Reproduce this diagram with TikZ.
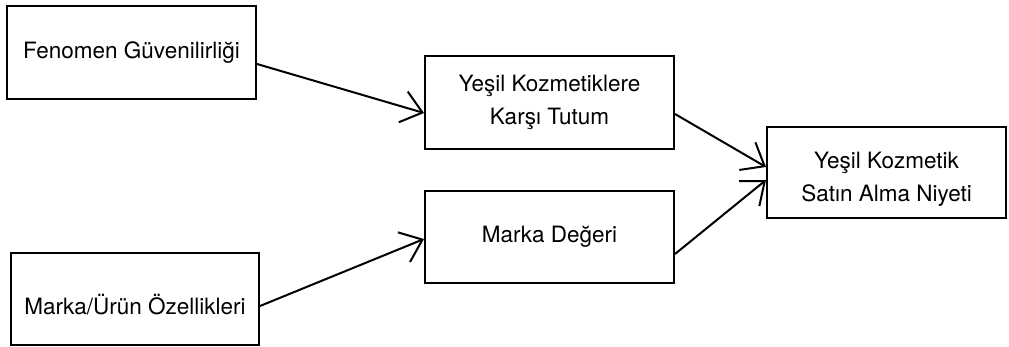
\documentclass[tikz,border=0pt]{standalone}
\usepackage{fontspec}
\setmainfont{TeX Gyre Heros}
\usetikzlibrary{arrows.meta,calc}
\begin{document}
\begin{tikzpicture}[x=1pt,y=-1pt,
  box/.style={draw=black,line width=2pt,minimum width=249pt,minimum height=92pt,
    inner sep=0pt,align=center,font=\fontsize{22.5}{33}\selectfont},
  lowtext/.style={label={[align=center,font=\fontsize{22.5}{33}\selectfont,yshift=-#1]center:}},
  conn/.style={line width=2pt,-{Straight Barb[length=20pt,width=32pt,line width=2pt]}}]
\useasboundingbox (0,0) rectangle (1009,347);
\node[box,minimum height=93pt] (b1) at (131.5,52.5) {Fenomen Güvenilirliği};
\node[box,minimum height=93pt] (b2) at (549.5,102.5) {Yeşil Kozmetiklere\\Karşı Tutum};
\node[box] (b3) at (549.5,237) {Marka Değeri};
\node[box,minimum width=239pt,minimum height=91pt,
  label={[align=center,font=\fontsize{22.5}{33}\selectfont,yshift=-7pt]center:Yeşil Kozmetik\\Satın Alma Niyeti}] (b4) at (886.5,172.5) {};
\node[box,minimum width=248pt,
  label={[font=\fontsize{22.5}{33}\selectfont,yshift=-6pt]center:Marka/Ürün Özellikleri}] (b5) at (135,299) {};
\draw[conn] ($(b1.east)+(0,11.5)$) -- ($(b2.west)+(0,10.5)$);
\draw[conn] ($(b5.east)+(0,7)$) -- ($(b3.west)+(0,2)$);
\draw[conn] ($(b2.east)+(0,11.5)$) -- ($(b4.west)+(0,-5.5)$);
\draw[conn] ($(b3.east)+(0,17)$) -- ($(b4.west)+(0,7.5)$);
\end{tikzpicture}
\end{document}
